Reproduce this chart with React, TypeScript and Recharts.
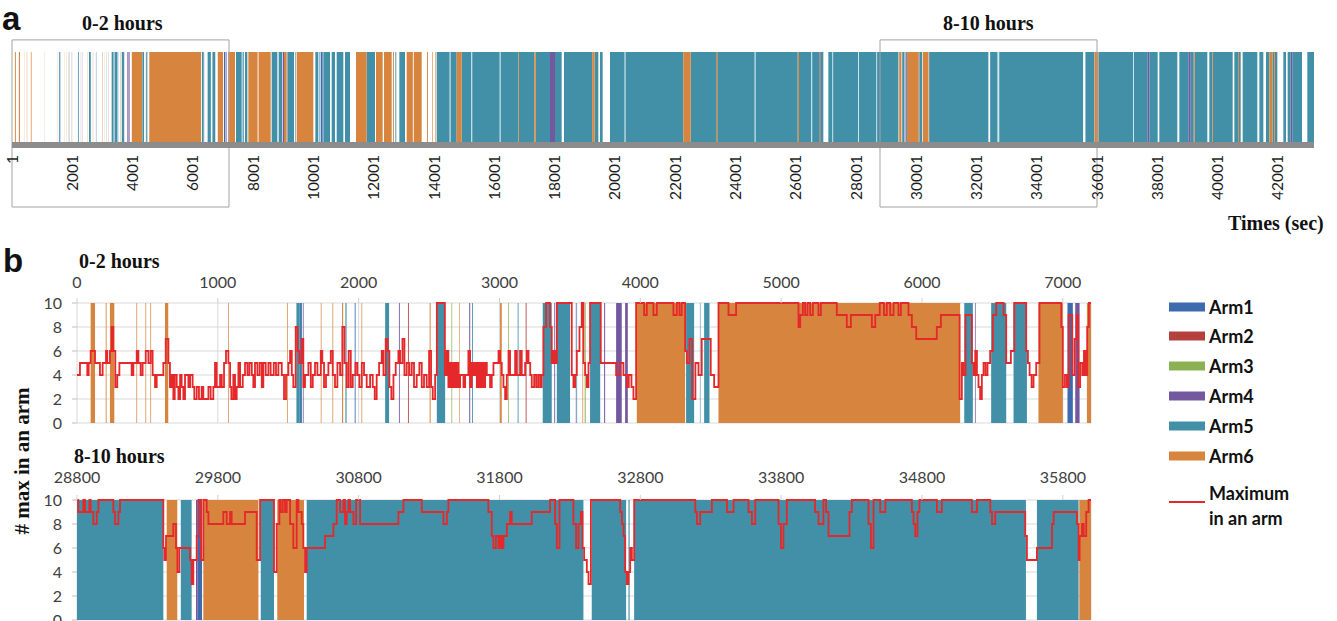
import React from 'react';
import { ComposedChart, Area, Line, XAxis, YAxis, CartesianGrid, ReferenceArea } from 'recharts';

type Seg = [number, number, number]; // start (s), end (s), arm
type Pt = [number, number]; // time (s), maximum in an arm

const armNames = ['Arm1', 'Arm2', 'Arm3', 'Arm4', 'Arm5', 'Arm6'];
const armColors = ['#3D6BAD', '#B5413F', '#8CB152', '#7358A0', '#4190A8', '#D6843E'];
const maxColor = '#E5282A';
const maxLabel = ['Maximum', 'in an arm'];

const overviewTicks = [1, 2001, 4001, 6001, 8001, 10001, 12001, 14001, 16001, 18001, 20001, 22001, 24001, 26001, 28001, 30001, 32001, 34001, 36001, 38001, 40001, 42001];
const earlyTicks = [0, 1000, 2000, 3000, 4000, 5000, 6000, 7000];
const windowTicks = [28800, 29800, 30800, 31800, 32800, 33800, 34800, 35800];
const countTicks = [0, 2, 4, 6, 8, 10];
const windows = [[0, 7200], [28800, 36000]];

// 0-2 hours: arm occupancy segments
const armsEarly: Seg[] = [
  [97, 128, 6], [204, 210, 6], [234, 265, 6], [422, 427, 6], [486, 491, 6], [521, 526, 6], [625, 648, 6],
  [1073, 1078, 6], [1492, 1497, 6], [1558, 1582, 5], [1582, 1590, 1], [1590, 1598, 5], [1604, 1609, 4],
  [1731, 1736, 6], [1814, 1819, 6], [1882, 1890, 6], [1906, 1914, 5], [1972, 1978, 1], [2020, 2025, 6],
  [2188, 2216, 5], [2286, 2292, 4], [2350, 2356, 2], [2504, 2511, 6], [2555, 2614, 5], [2659, 2664, 3],
  [2713, 2717, 6], [2785, 2792, 4], [2805, 2811, 5], [3004, 3016, 6], [3061, 3066, 3], [3129, 3135, 5],
  [3186, 3192, 2], [3307, 3371, 5], [3389, 3395, 4], [3407, 3501, 5], [3542, 3546, 4], [3547, 3551, 5],
  [3589, 3594, 6], [3605, 3612, 3], [3643, 3715, 5], [3743, 3750, 4], [3828, 3868, 4], [3892, 3911, 4],
  [3975, 4318, 6], [4325, 4382, 5], [4423, 4427, 5], [4453, 4491, 5], [4555, 6271, 6], [6300, 6361, 5],
  [6376, 6381, 4], [6491, 6598, 5], [6650, 6745, 5], [6827, 7000, 6], [7033, 7071, 1], [7088, 7119, 4],
  [7171, 7200, 6],
];

const maxEarly: Pt[] = [
  [0, 4], [21, 5], [73, 4], [83, 5], [97, 6], [128, 5], [163, 4], [182, 5], [206, 6], [215, 5], [234, 6], [246, 8], [258, 6], [272, 3], [286, 4], [301, 5],
  [388, 4], [400, 5], [424, 6], [436, 5], [452, 4], [466, 5], [488, 6], [507, 5], [523, 6], [537, 4], [554, 3], [566, 4], [613, 5], [630, 7], [649, 5],
  [660, 3], [672, 4], [684, 2], [694, 4], [708, 3], [720, 2], [732, 4], [743, 3], [755, 2], [767, 4], [791, 3], [803, 4], [821, 3], [833, 2], [850, 3],
  [866, 2], [885, 3], [897, 2], [933, 3], [949, 2], [968, 3], [980, 5], [992, 3], [1016, 4], [1028, 3], [1044, 5], [1058, 6], [1075, 5], [1087, 3],
  [1096, 2], [1110, 4], [1122, 2], [1134, 3], [1146, 5], [1158, 3], [1177, 4], [1193, 5], [1210, 4], [1224, 5], [1241, 4], [1252, 3], [1264, 5],
  [1281, 4], [1297, 5], [1312, 3], [1323, 5], [1340, 4], [1359, 5], [1375, 4], [1397, 5], [1413, 4], [1430, 5], [1454, 4], [1470, 2], [1484, 4],
  [1501, 5], [1513, 6], [1525, 4], [1536, 3], [1553, 8], [1567, 6], [1579, 5], [1596, 7], [1607, 3], [1619, 4], [1643, 5], [1660, 3], [1674, 4],
  [1690, 5], [1707, 4], [1731, 6], [1742, 5], [1754, 3], [1768, 4], [1785, 5], [1802, 6], [1816, 4], [1832, 3], [1849, 5], [1868, 4], [1884, 8],
  [1899, 5], [1915, 3], [1929, 6], [1944, 3], [1958, 4], [1977, 5], [1991, 4], [2005, 3], [2022, 5], [2038, 4], [2057, 3], [2081, 4], [2100, 3],
  [2114, 2], [2128, 4], [2145, 5], [2164, 6], [2176, 4], [2192, 7], [2206, 6], [2218, 3], [2232, 2], [2247, 4], [2263, 5], [2282, 6], [2294, 5],
  [2311, 7], [2325, 4], [2341, 5], [2360, 4], [2377, 5], [2393, 3], [2412, 4], [2431, 5], [2448, 3], [2464, 4], [2483, 3], [2500, 6], [2514, 3],
  [2526, 2], [2543, 4], [2555, 10], [2612, 4], [2625, 6], [2637, 3], [2649, 5], [2661, 3], [2673, 5], [2685, 3], [2696, 5], [2708, 3], [2720, 4],
  [2744, 3], [2756, 4], [2779, 6], [2791, 3], [2803, 5], [2815, 4], [2827, 5], [2839, 3], [2851, 5], [2862, 3], [2874, 5], [2886, 3], [2898, 5],
  [2910, 4], [2933, 3], [2945, 4], [2957, 5], [2993, 6], [3004, 5], [3016, 4], [3028, 3], [3040, 2], [3052, 4], [3064, 6], [3075, 4], [3111, 6],
  [3123, 4], [3146, 6], [3158, 4], [3182, 5], [3194, 6], [3206, 5], [3218, 4], [3229, 3], [3246, 4], [3260, 3], [3274, 4], [3288, 3], [3300, 4],
  [3312, 8], [3331, 10], [3359, 8], [3371, 5], [3383, 6], [3395, 5], [3407, 10], [3513, 4], [3525, 3], [3537, 4], [3549, 6], [3568, 8], [3584, 10],
  [3596, 5], [3608, 4], [3620, 3], [3632, 5], [3643, 10], [3719, 5], [3828, 4], [3857, 5], [3880, 4], [3904, 3], [3918, 4], [3937, 3], [3951, 2],
  [3970, 10], [4027, 9], [4046, 10], [4093, 9], [4117, 10], [4235, 9], [4259, 10], [4278, 9], [4294, 10], [4318, 6], [4330, 5], [4349, 7], [4368, 2],
  [4391, 5], [4413, 4], [4436, 7], [4500, 4], [4524, 3], [4555, 10], [4626, 9], [4680, 10], [5123, 8], [5135, 9], [5154, 10], [5170, 9], [5187, 10],
  [5206, 9], [5225, 10], [5265, 9], [5282, 10], [5395, 9], [5466, 8], [5495, 9], [5644, 8], [5668, 9], [5700, 10], [5730, 9], [5750, 10], [5774, 9],
  [5798, 10], [5833, 9], [5850, 10], [5904, 9], [5928, 8], [5959, 7], [6105, 8], [6134, 9], [6267, 2], [6283, 5], [6295, 4], [6309, 9], [6354, 5],
  [6366, 4], [6378, 6], [6390, 4], [6401, 3], [6413, 2], [6425, 4], [6437, 5], [6451, 4], [6465, 5], [6484, 6], [6503, 9], [6527, 10], [6579, 9],
  [6598, 5], [6631, 6], [6655, 10], [6740, 6], [6752, 5], [6764, 4], [6778, 3], [6792, 4], [6811, 5], [6834, 10], [6989, 8], [7000, 3], [7015, 4],
  [7029, 3], [7041, 9], [7067, 4], [7083, 7], [7098, 9], [7109, 3], [7123, 5], [7138, 4], [7150, 6], [7161, 4], [7173, 8], [7185, 10], [7200, 10],
];

// 2-8 hours (overview only)
const armsMid: Seg[] = [
  [7200, 7399, 6], [7432, 7621, 5], [7650, 7690, 5], [7731, 7809, 5], [7842, 8150, 6], [8180, 8583, 6], [8616, 8804, 5], [8848, 8959, 5],
  [8981, 9025, 4], [9025, 9114, 6], [9136, 9357, 5], [9400, 9420, 5], [9445, 9998, 6], [10065, 10164, 5], [10200, 10220, 5], [10242, 10308, 1],
  [10330, 10551, 5], [10607, 10717, 5], [10773, 10994, 5], [11049, 11215, 5], [11414, 11768, 6], [11768, 12045, 5], [12078, 12299, 6],
  [12343, 12598, 6], [12640, 12670, 6], [12720, 12750, 5], [12852, 13040, 5], [13095, 13300, 6], [13330, 13593, 6], [13770, 13800, 6],
  [13940, 13960, 6], [14050, 14070, 6], [14091, 14520, 5], [14550, 14754, 5], [14754, 14920, 6], [14920, 15240, 5], [15270, 16180, 5],
  [16210, 16790, 5], [16790, 16815, 6], [16815, 17330, 5], [17330, 17380, 6], [17380, 17851, 5], [17851, 18017, 4], [18017, 18238, 5],
  [18315, 19250, 5], [19250, 19330, 6], [19330, 19455, 5], [19510, 19598, 5], [19842, 20325, 5], [20355, 22275, 5], [22275, 22518, 6],
  [22518, 23360, 5], [23360, 23400, 6], [23400, 24640, 5], [24670, 26070, 5], [26070, 26110, 6], [26110, 26520, 5], [26550, 26790, 5],
  [26790, 26830, 2], [26830, 26920, 5], [27086, 27220, 5], [27245, 28070, 5], [28095, 28680, 5], [28705, 28800, 5],
];

// 8-10 hours
const armsWindow: Seg[] = [
  [28800, 29413, 5], [29437, 29512, 6], [29537, 29614, 5], [29645, 29657, 4], [29657, 29688, 1], [29697, 30088, 6], [30105, 30199, 5],
  [30222, 30412, 6], [30431, 32396, 5], [32455, 32699, 5], [32716, 32724, 5], [32756, 35538, 5], [35616, 35912, 5], [35917, 36000, 6],
];

const maxWindow: Pt[] = [
  [28800, 10], [28809, 9], [28845, 10], [28857, 9], [28888, 10], [28897, 9], [28916, 8], [28940, 9], [28952, 10], [29058, 9], [29070, 8],
  [29094, 9], [29105, 10], [29413, 6], [29420, 5], [29432, 7], [29484, 8], [29503, 6], [29513, 4], [29527, 6], [29603, 5], [29614, 3],
  [29626, 5], [29650, 7], [29662, 10], [29681, 5], [29697, 10], [29721, 9], [29733, 8], [29839, 9], [29863, 8], [29887, 9], [29898, 8],
  [29993, 9], [30076, 5], [30100, 10], [30199, 4], [30218, 8], [30237, 10], [30246, 9], [30261, 10], [30277, 9], [30289, 10], [30313, 8],
  [30336, 6], [30360, 10], [30372, 9], [30396, 8], [30407, 6], [30419, 4], [30431, 6], [30561, 7], [30621, 8], [30644, 10], [30668, 9],
  [30692, 10], [30703, 8], [30715, 9], [30727, 10], [30739, 9], [30763, 8], [30782, 10], [30810, 8], [31082, 9], [31118, 10], [31248, 9],
  [31402, 8], [31426, 9], [31437, 10], [31721, 9], [31745, 7], [31757, 6], [31774, 7], [31792, 6], [31804, 7], [31816, 6], [31828, 7],
  [31852, 8], [31875, 9], [31887, 8], [32029, 9], [32159, 10], [32195, 8], [32207, 6], [32226, 10], [32325, 8], [32344, 6], [32361, 8],
  [32378, 9], [32389, 6], [32401, 5], [32420, 4], [32432, 3], [32449, 10], [32657, 9], [32669, 8], [32681, 7], [32692, 4], [32704, 3],
  [32716, 4], [32728, 6], [32740, 5], [32756, 10], [33190, 9], [33202, 8], [33225, 9], [33308, 10], [33415, 9], [33462, 10], [33568, 9],
  [33592, 8], [33616, 10], [33781, 8], [33798, 6], [33816, 8], [33840, 10], [34041, 9], [34065, 8], [34100, 10], [34119, 9], [34136, 7],
  [34285, 9], [34302, 10], [34420, 8], [34437, 6], [34456, 10], [34503, 9], [34540, 10], [34728, 9], [34740, 8], [34752, 7], [34768, 9],
  [34782, 10], [34906, 9], [34941, 10], [35154, 9], [35190, 10], [35285, 9], [35297, 8], [35320, 9], [35533, 7], [35545, 5], [35616, 6],
  [35723, 8], [35735, 9], [35900, 8], [35912, 5], [35919, 7], [35936, 8], [35948, 7], [35966, 9], [35983, 10], [36000, 10],
];

// 10-12 hours (overview only)
const armsLate: Seg[] = [
  [36000, 36050, 6], [36050, 37195, 5], [37220, 37670, 5], [37670, 37737, 4], [37737, 38013, 5], [38068, 38666, 5], [38732, 39031, 5],
  [39031, 39108, 4], [39108, 39210, 5], [39210, 39240, 6], [39240, 39661, 5], [39727, 39820, 5], [39820, 39845, 6], [39845, 40502, 5],
  [40557, 40680, 5], [40680, 40710, 6], [40710, 40767, 5], [40833, 41320, 5], [41387, 41519, 5], [41608, 41718, 5], [41718, 41829, 6],
  [41829, 41873, 5], [41873, 41900, 6], [41900, 41984, 5], [42183, 42271, 5], [42326, 42426, 5], [42426, 42492, 4], [42492, 42802, 5],
  [42979, 43200, 5],
];

function buildRows(segs: Seg[], maxPts: Pt[] | null, full: number) {
  const set = new Set<number>();
  for (const [s, e] of segs) { set.add(s); set.add(e); }
  if (maxPts) for (const [t] of maxPts) set.add(t);
  const times = Array.from(set).sort((a, b) => a - b);
  return times.map((t) => {
    const row: Record<string, number> = { t };
    armNames.forEach((_, i) => { row['a' + (i + 1)] = 0; });
    const seg = segs.find(([s, e]) => s <= t && t < e);
    if (seg) row['a' + seg[2]] = full;
    if (maxPts) {
      let v = maxPts[0][1];
      for (const [pt, pv] of maxPts) { if (pt <= t) v = pv; else break; }
      row.max = v;
    }
    return row;
  });
}

const overviewRows = buildRows([...armsEarly, ...armsMid, ...armsWindow, ...armsLate], null, 1);
const earlyRows = buildRows(armsEarly, maxEarly, 10);
const windowRows = buildRows(armsWindow, maxWindow, 10);

const sansFont = "Lato, 'Open Sans', sans-serif";
const serifFont = "'Liberation Serif', 'DejaVu Serif', serif";

const RotTick = (props: any) => {
  const { x, y, payload } = props;
  return (
    <text transform={`translate(${x},${y}) rotate(-90)`} textAnchor="end" dy="0.36em" fontSize={15.5} fontFamily={sansFont} fill="#1f1f1f">
      {payload.value}
    </text>
  );
};

const armAreas = (full: number) =>
  armNames.map((n, i) => (
    <Area
      key={n}
      name={n}
      dataKey={'a' + (i + 1)}
      type="stepAfter"
      stroke="none"
      fill={armColors[i]}
      fillOpacity={1}
      isAnimationActive={false}
      dot={false}
      activeDot={false}
    />
  ));

const tickStyle = { fontSize: 16, fill: '#404040', fontFamily: sansFont };

function DetailChart({ rows, domain, ticks, top, mt, mb }: { rows: any[]; domain: number[]; ticks: number[]; top: number; mt: number; mb: number }) {
  return (
    <div style={{ position: 'absolute', left: 0, top }}>
      <ComposedChart width={1100} height={170} data={rows} margin={{ top: mt, right: 9, bottom: mb, left: 17 }}>
        <CartesianGrid stroke="#d9d9d9" />
        <XAxis dataKey="t" type="number" orientation="top" domain={domain} ticks={ticks} interval={0} height={25} tickSize={5}
          tickMargin={mt === 13 ? 10 : 12} axisLine={false} tickLine={{ stroke: '#d0d0d0' }} tick={tickStyle} allowDataOverflow />
        <YAxis type="number" domain={[0, 10]} ticks={countTicks} interval={0} width={60} tickSize={5} tickMargin={10}
          axisLine={false} tickLine={{ stroke: '#bfbfbf' }} tick={tickStyle} />
        {armAreas(10)}
        <Line dataKey="max" name={maxLabel.join(' ')} type="stepAfter" stroke={maxColor} strokeWidth={1.8} dot={false} activeDot={false} isAnimationActive={false} />
      </ComposedChart>
    </div>
  );
}

export default function App() {
  const legendY = [307, 336, 366, 396, 426, 456];
  return (
    <div style={{ position: 'absolute', left: 0, top: 0, width: 1337, height: 621, overflow: 'hidden', background: '#fff' }}>
      <div style={{ position: 'absolute', left: 0, top: 0 }}>
        <ComposedChart width={1337} height={215} data={overviewRows} margin={{ top: 52, right: 23, bottom: 10, left: 12 }}>
          <YAxis type="number" domain={[0, 1]} hide />
          {armAreas(1)}
          <XAxis dataKey="t" type="number" domain={[0, 43200]} ticks={overviewTicks} interval={0} height={60} tickSize={0} tickMargin={10}
            axisLine={{ stroke: '#8c8c8c', strokeWidth: 6 }} tickLine={false} tick={<RotTick />} allowDataOverflow />
          {windows.map(([a, b]) => (
            <ReferenceArea key={a} x1={a} x2={b} y1={-0.667} y2={1.13} ifOverflow="visible" fill="none" fillOpacity={0} stroke="#a3a3a3" strokeWidth={1} />
          ))}
        </ComposedChart>
      </div>

      <DetailChart rows={earlyRows} domain={[0, 7200]} ticks={earlyTicks} top={265} mt={13} mb={12} />
      <DetailChart rows={windowRows} domain={[28800, 36000]} ticks={windowTicks} top={465} mt={10} mb={15} />

      <svg width={1337} height={621} style={{ position: 'absolute', left: 0, top: 0, pointerEvents: 'none' }}>
        <text x={2} y={30} fontFamily="'Liberation Sans', Arial, sans-serif" fontWeight="bold" fontSize={33} fill="#111">a</text>
        <text x={3} y={272} fontFamily="'Liberation Sans', Arial, sans-serif" fontWeight="bold" fontSize={33} fill="#111">b</text>
        <text x={82} y={30} fontFamily={serifFont} fontWeight="bold" fontSize={20} fill="#111">0-2 hours</text>
        <text x={943} y={30} fontFamily={serifFont} fontWeight="bold" fontSize={20} fill="#111">8-10 hours</text>
        <text x={1228} y={230} fontFamily={serifFont} fontWeight="bold" fontSize={20} fill="#111">Times (sec)</text>
        <text x={79} y={268} fontFamily={serifFont} fontWeight="bold" fontSize={20} fill="#111">0-2 hours</text>
        <text x={74} y={463} fontFamily={serifFont} fontWeight="bold" fontSize={20} fill="#111">8-10 hours</text>
        <text transform="translate(22,461) rotate(-90)" textAnchor="middle" dominantBaseline="central" fontFamily={serifFont} fontWeight="bold" fontSize={21} fill="#111"># max in an arm</text>
        {armNames.map((n, i) => (
          <g key={n}>
            <rect x={1169} y={legendY[i] - 4.5} width={36} height={9} fill={armColors[i]} />
            <text x={1209} y={legendY[i]} dominantBaseline="central" fontFamily={sansFont} fontWeight="bold" fontSize={18} fill="#111">{n}</text>
          </g>
        ))}
        <line x1={1169} x2={1205} y1={502} y2={502} stroke={maxColor} strokeWidth={2} />
        <text x={1209} y={493} dominantBaseline="central" fontFamily={sansFont} fontWeight="bold" fontSize={18} fill="#111">{maxLabel[0]}</text>
        <text x={1209} y={518} dominantBaseline="central" fontFamily={sansFont} fontWeight="bold" fontSize={18} fill="#111">{maxLabel[1]}</text>
      </svg>
    </div>
  );
}
